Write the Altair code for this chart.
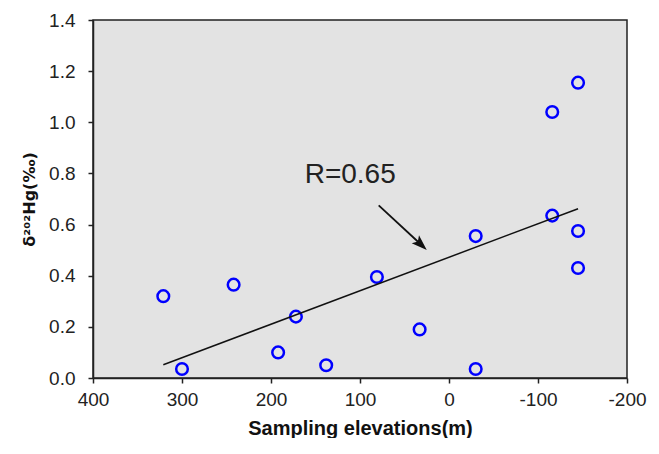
import altair as alt
import pandas as pd

# Data
elev = [321, 300, 242, 192, 172, 138, 81, 33, -30, -30, -116, -116, -145, -145, -145]
d202 = [0.32, 0.035, 0.365, 0.10, 0.24, 0.05, 0.395, 0.19, 0.555, 0.035, 1.04, 0.635, 1.155, 0.575, 0.43]

fit_x = [321, -145]
fit_y = [0.052, 0.662]

label_x = [111]
label_y = [0.795]
label_text = ["R=0.65"]

arrow_x = [79, 33]
arrow_y = [0.675, 0.527]

x_ticks = [400, 300, 200, 100, 0, -100, -200]
y_ticks = [0.0, 0.2, 0.4, 0.6, 0.8, 1.0, 1.2, 1.4]

pts = pd.DataFrame({"x": elev, "y": d202})
fit = pd.DataFrame({"x": fit_x, "y": fit_y})
lab = pd.DataFrame({"x": label_x, "y": label_y, "t": label_text})
arr = pd.DataFrame({"x": [arrow_x[0]], "y": [arrow_y[0]], "x2": [arrow_x[1]], "y2": [arrow_y[1]]})
head = pd.DataFrame({"x": [arrow_x[1]], "y": [arrow_y[1]]})

FONT = "Liberation Sans"

xs = alt.Scale(domain=[-200, 400], reverse=True, nice=False, zero=False)
ys = alt.Scale(domain=[0, 1.4], nice=False)

xax = alt.Axis(values=x_ticks, labelExpr="'' + datum.value", title="Sampling elevations(m)", grid=False,
               labelFont=FONT, labelFontSize=19, labelColor="#222", labelPadding=7, labelFlush=False,
               titleFont=FONT, titleFontSize=20, titleFontWeight="bold", titleColor="#111",
               titlePadding=9, domainColor="#222", domainWidth=1.5, tickColor="#222",
               tickSize=5, tickWidth=1.5)
yax = alt.Axis(values=y_ticks, format=".1f", title="δ²⁰²Hg(‰)", grid=False,
               labelFont=FONT, labelFontSize=19, labelColor="#222", labelPadding=13, labelFlush=False,
               titleFont="DejaVu Sans", titleFontSize=16, titleFontWeight="bold", titleColor="#111",
               titlePadding=11, domainColor="#222", domainWidth=1.5, tickColor="#222",
               tickSize=5, tickWidth=1.5)

points = alt.Chart(pts).mark_point(shape="circle", size=135, filled=False, stroke="#0000ff",
                                    strokeWidth=2.5, opacity=1).encode(
    x=alt.X("x:Q", scale=xs, axis=xax),
    y=alt.Y("y:Q", scale=ys, axis=yax),
)

line = alt.Chart(fit).mark_line(color="#111", strokeWidth=1.5).encode(
    x=alt.X("x:Q", scale=xs), y=alt.Y("y:Q", scale=ys))

text = alt.Chart(lab).mark_text(font=FONT, fontSize=28, color="#222").encode(
    x=alt.X("x:Q", scale=xs), y=alt.Y("y:Q", scale=ys), text="t:N")

shaft = alt.Chart(arr).mark_rule(color="#111", strokeWidth=1.8).encode(
    x=alt.X("x:Q", scale=xs), y=alt.Y("y:Q", scale=ys), x2="x2:Q", y2="y2:Q")

arrowhead = alt.Chart(head).mark_point(
    shape="M0,-1 L0.55,0.6 L0,0.25 L-0.55,0.6 Z", size=380, filled=True, color="#111",
    opacity=1, angle=133).encode(
    x=alt.X("x:Q", scale=xs), y=alt.Y("y:Q", scale=ys))

chart = alt.layer(points, line, text, shaft, arrowhead).properties(
    width=534, height=358,
    autosize=alt.AutoSizeParams(type="none"),
    padding={"left": 85, "top": 12, "right": 20, "bottom": 60},
    background="white",
).configure_view(fill="#e3e3e3", stroke="#222", strokeWidth=1.5)

chart.save("out.html", embed_options={"renderer": "svg", "actions": False})
